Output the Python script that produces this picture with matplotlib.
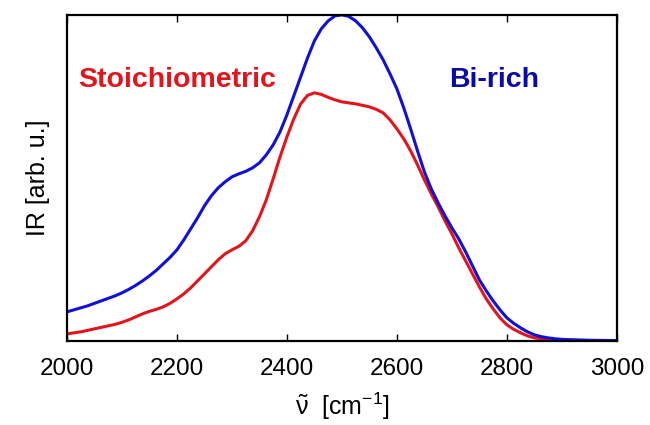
import matplotlib
matplotlib.use("Agg")
import matplotlib.pyplot as plt
import numpy as np

plt.rcParams['font.family'] = ['Liberation Sans', 'DejaVu Sans']
plt.rcParams['mathtext.fontset'] = 'custom'
plt.rcParams['mathtext.rm'] = 'Liberation Sans'
plt.rcParams['mathtext.it'] = 'Liberation Sans'

# wavenumber grid (cm^-1), 12.5 cm^-1 steps
wavenumber = np.arange(2000, 3000.1, 12.5)

# IR intensity, arbitrary units
stoich = [7, 8, 9, 10.5, 12, 13.5, 15, 16.5, 18.5, 21,
          24, 27, 29.5, 31.5, 34, 37.5, 42, 47, 53, 60,
          67, 74, 81, 87, 91, 94.5, 100, 110, 124, 141,
          162, 184, 204, 222, 237, 245.5, 248, 246.5, 243.5, 241,
          239, 238, 237, 235.5, 234, 231.5, 228, 221, 212, 202,
          190, 176, 161, 147, 134, 120, 107, 93, 80, 67,
          54, 42, 32, 23, 16, 11.5, 8, 5, 3, 2.1,
          1.5, 1, 0.7, 0.5, 0.4, 0.3, 0.2, 0.15, 0.1, 0.1, 0.1]
bi_rich = [29, 31, 33, 35, 37.5, 40, 42.5, 45, 48, 51.5,
           55.5, 60, 65, 70.5, 77, 83.5, 91, 101, 112, 123,
           135, 145, 153, 159, 164, 167, 169.5, 173, 178, 186,
           196, 209, 226, 245, 264, 283, 300, 312, 320, 325,
           326, 324.5, 320, 313, 304, 293, 281, 267, 252, 233,
           212, 190, 169, 152, 138, 125, 113, 102, 89, 75,
           61, 50, 40, 31, 23, 17.5, 13, 9, 6, 4.2,
           3, 2.1, 1.5, 1.2, 1, 0.8, 0.6, 0.5, 0.4, 0.35, 0.3]

fig = plt.figure(figsize=(6.5, 4.25), dpi=100)
ax = fig.add_axes([0.103, 0.198, 0.846, 0.767])

ax.plot(wavenumber, stoich, color='#e4141c', lw=2.2, solid_joinstyle='round')
ax.plot(wavenumber, bi_rich, color='#1010d8', lw=2.2, solid_joinstyle='round')

ax.set_xlim(2000, 3000)
ax.set_ylim(0, max(bi_rich))
ax.set_xticks([2000, 2200, 2400, 2600, 2800, 3000])
ax.set_yticks([])
ax.tick_params(axis='x', direction='in', length=5, width=1, top=True,
               labelsize=17.5, pad=12)
for s in ax.spines.values():
    s.set_linewidth(1.6)

ax.set_ylabel('IR [arb. u.]', fontsize=18, labelpad=12)
ax.set_xlabel(r'$\tilde{\mathrm{\nu}}$  [cm$^{-1}$]', fontsize=18, labelpad=8)

ax.text(0.02, 0.8, 'Stoichiometric', transform=ax.transAxes, color='#e4141c',
        fontsize=20.5, fontweight='bold', va='center', ha='left')
ax.text(0.695, 0.8, 'Bi-rich', transform=ax.transAxes, color='#0a0aa8',
        fontsize=20.5, fontweight='bold', va='center', ha='left')

fig.savefig('out.png', dpi=100)
